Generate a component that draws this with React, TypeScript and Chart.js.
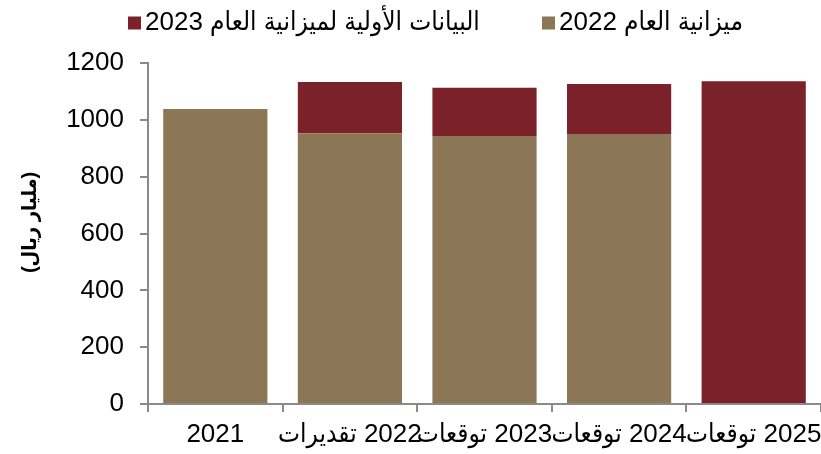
import React, { useEffect, useRef } from "react";
import { Chart, registerables } from "chart.js";

Chart.register(...registerables);

// ---- data ----
const years = ["2021", "2022", "2023", "2024", "2025"];
const yearNotes = ["", "تقديرات", "توقعات", "توقعات", "توقعات"];
const budget2022 = [1038, 953, 943, 950, null];
const prelim2023Extra = [null, 180, 170, 176, 1136];
const seriesNames = ["2022 ميزانية العام", "2023 البيانات الأولية لميزانية العام"];
const yTicks = [0, 200, 400, 600, 800, 1000, 1200];
const yTitle = "(مليار ريال)";

const TAN = "#8B7756";
const RED = "#7B2129";
const AXIS = "#8A8A8A";
const FONT = "Arial, 'Liberation Sans', 'DejaVu Sans Condensed', 'DejaVu Sans', sans-serif";

const labels = years.map((y, i) => {
  const note = yearNotes[i];
  if (!note) return y;
  return "\u200F" + y + " " + note;
});

const legendPlugin = {
  id: "topLegend",
  afterDraw(chart: any) {
    const ctx = chart.ctx as CanvasRenderingContext2D;
    ctx.save();
    ctx.font = `26px ${FONT}`;
    ctx.textBaseline = "middle";
    ctx.textAlign = "left";
    (ctx as any).direction = "ltr";
    const order = [1, 0];
    const boxX = [128, 542];
    const y = 23;
    order.forEach((di, k) => {
      const ds = chart.data.datasets[di];
      const x = boxX[k];
      ctx.fillStyle = ds.backgroundColor;
      ctx.fillRect(x, y - 6.5, 13, 13);
      ctx.fillStyle = "#000";
      ctx.fillText(ds.label, x + 17, y);
    });
    ctx.restore();
  },
};

export default function App() {
  const ref = useRef<HTMLCanvasElement | null>(null);

  useEffect(() => {
    document.body.style.margin = "0";
    const canvas = ref.current;
    if (!canvas) return;
    const chart = new Chart(canvas, {
      type: "bar",
      data: {
        labels,
        datasets: [
          { label: seriesNames[0], data: budget2022 as any, backgroundColor: TAN },
          { label: seriesNames[1], data: prelim2023Extra as any, backgroundColor: RED },
        ],
      },
      options: {
        responsive: false,
        animation: false,
        devicePixelRatio: 1,
        layout: { padding: { top: 63, right: 0, left: 0, bottom: 0 } },
        plugins: { legend: { display: false }, tooltip: { enabled: false } },
        datasets: { bar: { barPercentage: 0.774, categoryPercentage: 1 } },
        scales: {
          x: {
            stacked: true,
            grid: {
              drawOnChartArea: false,
              drawTicks: true,
              tickLength: 8,
              color: AXIS,
              lineWidth: 2,
              offset: true,
            },
            border: { color: AXIS, width: 2 },
            ticks: {
              color: "#000",
              font: { size: 26, family: FONT },
              padding: 7,
              maxRotation: 0,
              minRotation: 0,
              autoSkip: false,
            },
            afterFit: (s: any) => {
              s.height = 50;
              s.paddingLeft = 0;
              s.paddingRight = 0;
            },
          },
          y: {
            stacked: true,
            min: yTicks[0],
            max: yTicks[yTicks.length - 1],
            afterBuildTicks: (s: any) => {
              s.ticks = yTicks.map((v) => ({ value: v }));
            },
            grid: {
              drawOnChartArea: false,
              drawTicks: true,
              tickLength: 8,
              color: AXIS,
              lineWidth: 2,
            },
            border: { color: AXIS, width: 2 },
            ticks: {
              color: "#000",
              font: { size: 26, family: FONT },
              padding: 16,
              callback: (v: any) => String(v),
            },
            title: {
              display: true,
              text: "\u00A0\u00A0\u00A0\u00A0" + yTitle,
              color: "#000",
              font: { size: 20, weight: "bold", family: FONT },
              padding: { top: 18, bottom: 0 },
            },
            afterFit: (s: any) => {
              s.width = 148;
            },
          },
        },
      } as any,
      plugins: [legendPlugin],
    });
    return () => chart.destroy();
  }, []);

  return (
    <div style={{ width: 821, height: 454 }}>
      <canvas ref={ref} width={821} height={454} style={{ display: "block" }} />
    </div>
  );
}
